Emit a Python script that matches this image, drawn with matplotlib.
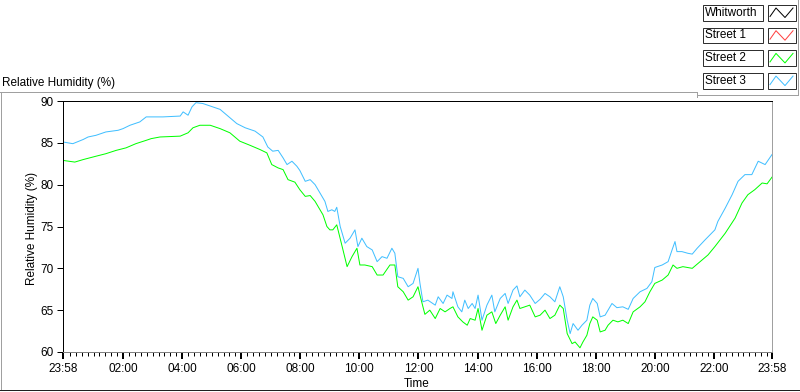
import matplotlib
matplotlib.use("Agg")
import matplotlib.pyplot as plt
from matplotlib.lines import Line2D
from matplotlib.patches import Rectangle

# Street 3 (blue): minutes since 23:58 and relative humidity (%)
street3_min = [0, 20, 41, 51, 67, 87, 112, 122, 136, 156, 169, 203, 238, 244, 254, 262,
               270, 284, 299, 319, 339, 353, 370, 390, 406, 416, 426, 437, 447, 455, 465,
               475, 481, 492, 502, 512, 522, 532, 538, 546, 552, 556, 563, 573, 583, 593,
               599, 607, 617, 628, 638, 648, 658, 668, 674, 680, 691, 701, 711, 721, 725,
               731, 741, 756, 762, 772, 780, 790, 792, 802, 810, 816, 823, 831, 837, 843,
               851, 861, 871, 877, 888, 898, 904, 914, 922, 928, 938, 948, 959, 969, 979,
               989, 999, 1009, 1016, 1024, 1030, 1036, 1046, 1054, 1064, 1070, 1076, 1085,
               1091, 1101, 1107, 1115, 1125, 1137, 1148, 1158, 1172, 1186, 1196, 1202, 1217,
               1229, 1237, 1243, 1247, 1257, 1269, 1278, 1288, 1304, 1324, 1330, 1345, 1359,
               1371, 1385, 1399, 1412, 1426, 1440]
street3_rh = [85.1, 84.9, 85.4, 85.7, 85.9, 86.3, 86.5, 86.7, 87.1, 87.5, 88.1, 88.1, 88.2,
              88.7, 88.3, 89.3, 89.8, 89.7, 89.4, 89.0, 88.0, 87.3, 86.8, 86.4, 85.7, 84.5,
              84.0, 84.1, 83.2, 82.4, 82.8, 82.2, 81.7, 80.4, 80.6, 80.0, 79.0, 78.0, 76.8,
              77.0, 76.8, 77.3, 75.0, 73.0, 73.6, 74.6, 72.6, 73.6, 72.6, 72.2, 70.8, 71.4,
              71.2, 72.4, 71.8, 69.0, 68.8, 67.8, 68.2, 70.0, 68.2, 66.0, 66.2, 65.6, 66.6,
              65.8, 66.8, 66.4, 67.2, 65.4, 64.8, 66.2, 65.2, 65.8, 65.2, 66.8, 63.8, 65.6,
              66.8, 64.8, 66.4, 67.0, 65.8, 67.4, 67.9, 66.6, 67.4, 66.8, 65.8, 66.3, 67.0,
              66.6, 66.0, 67.8, 66.6, 63.8, 62.2, 63.4, 62.6, 63.2, 63.8, 65.6, 66.4, 65.8,
              64.2, 64.4, 65.0, 65.8, 65.3, 65.4, 65.1, 66.4, 67.2, 67.6, 68.4, 70.1, 70.4,
              70.8, 72.2, 73.2, 72.0, 72.0, 71.8, 71.7, 72.4, 73.4, 74.6, 75.6, 77.2, 78.8,
              80.4, 81.2, 81.2, 82.8, 82.4, 83.6]

# Street 2 (green)
street2_min = [0, 24, 41, 67, 87, 108, 128, 148, 169, 179, 197, 238, 254, 264, 278, 299, 319,
               339, 359, 380, 400, 414, 424, 437, 447, 457, 471, 481, 492, 502, 512, 522,
               528, 536, 542, 548, 556, 567, 577, 587, 597, 603, 613, 628, 638, 650, 664,
               674, 680, 691, 701, 711, 721, 725, 735, 745, 756, 766, 776, 786, 792, 802,
               812, 821, 827, 837, 843, 851, 861, 871, 879, 888, 898, 904, 914, 922, 928,
               938, 948, 959, 969, 979, 989, 999, 1009, 1016, 1024, 1034, 1040, 1050, 1056,
               1064, 1070, 1076, 1085, 1091, 1101, 1107, 1117, 1127, 1137, 1148, 1158, 1172,
               1182, 1192, 1202, 1217, 1229, 1239, 1247, 1259, 1278, 1290, 1310, 1324, 1345,
               1365, 1379, 1391, 1405, 1420, 1430, 1440]
street2_rh = [82.9, 82.7, 83.0, 83.4, 83.7, 84.1, 84.4, 84.9, 85.3, 85.5, 85.7, 85.8, 86.2,
              86.8, 87.1, 87.1, 86.7, 86.2, 85.2, 84.7, 84.2, 83.8, 82.4, 82.0, 81.8, 80.6,
              80.3, 79.4, 78.6, 78.7, 78.0, 77.0, 76.4, 75.0, 74.6, 74.6, 75.2, 72.6, 70.2,
              71.4, 72.4, 70.4, 70.4, 70.2, 69.2, 69.2, 70.4, 70.4, 67.8, 67.2, 66.2, 66.6,
              67.8, 66.8, 64.5, 65.0, 64.0, 65.2, 64.8, 65.2, 65.4, 64.2, 63.6, 63.2, 64.0,
              63.8, 65.2, 62.6, 64.4, 64.8, 63.4, 64.4, 65.4, 63.8, 65.4, 66.2, 65.2, 65.4,
              65.6, 64.2, 64.4, 65.0, 64.0, 64.4, 65.6, 65.2, 62.2, 61.0, 61.2, 60.5, 61.2,
              62.0, 63.4, 64.2, 63.8, 62.4, 62.6, 63.2, 63.8, 63.6, 63.8, 63.4, 64.8, 65.4,
              66.0, 67.2, 68.2, 68.6, 69.2, 70.4, 70.0, 70.2, 70.0, 70.6, 71.6, 72.6, 74.2,
              76.0, 77.8, 78.8, 79.4, 80.2, 80.1, 80.9]

legend_names = ["Whitworth", "Street 1", "Street 2", "Street 3"]
legend_colors = ["#000000", "#ff4040", "#00ff00", "#40bfff"]

x_major = [0, 122, 242, 362, 482, 602, 722, 842, 962, 1082, 1202, 1322, 1440]
x_labels = ["23:58", "02:00", "04:00", "06:00", "08:00", "10:00", "12:00",
            "14:00", "16:00", "18:00", "20:00", "22:00", "23:58"]
y_ticks = [60, 65, 70, 75, 80, 85, 90]

W, H = 800, 392
PX = 0.72  # one pixel in points


def fx(x):
    return x / W


def fy(y):
    return 1 - y / H


plt.rcParams['font.family'] = ['Liberation Sans', 'DejaVu Sans']

fig = plt.figure(figsize=(8, 3.92), dpi=100)
fig.patch.set_facecolor('white')

ax = fig.add_axes([fx(63), fy(352), fx(772) - fx(63), fy(101) - fy(352)])
ax.plot(street2_min, street2_rh, color=legend_colors[2], lw=PX)
ax.plot(street3_min, street3_rh, color=legend_colors[3], lw=PX)

ax.set_xlim(0, 1440)
ax.set_ylim(60, 90)
ax.set_yticks(y_ticks)
ax.set_xticks(x_major)
ax.set_xticklabels(x_labels)
minor = [m for m in range(14, 1440, 12) if m not in x_major]
ax.set_xticks(minor, minor=True)

ax.tick_params(axis='y', direction='out', length=4, width=PX, color='black',
               labelsize=8.5, pad=3)
ax.tick_params(axis='x', which='major', direction='out', length=5, width=2 * PX,
               color='black', labelsize=8.5, pad=3)
ax.tick_params(axis='x', which='minor', direction='out', length=3, width=PX,
               color='black')

for side, col in [('left', 'black'), ('top', 'black'),
                  ('right', '#a0a0a0'), ('bottom', '#808080')]:
    ax.spines[side].set_color(col)
    ax.spines[side].set_linewidth(PX)

# frame and labels around the graph
fig.add_artist(Line2D([0, fx(697)], [fy(92), fy(92)], color='#a0a0a0', lw=PX))
fig.add_artist(Line2D([fx(1), fx(1)], [fy(92), fy(390)], color='#a0a0a0', lw=PX))
fig.add_artist(Line2D([0, 1], [fy(390), fy(390)], color='#202020', lw=PX))
fig.add_artist(Line2D([fx(697), fx(697)], [fy(92), fy(97)], color='#a0a0a0', lw=PX))
fig.add_artist(Line2D([fx(697), fx(798)], [fy(95), fy(95)], color='#a0a0a0', lw=PX))
fig.add_artist(Line2D([fx(798), fx(798)], [fy(0), fy(95)], color='#a0a0a0', lw=PX))

fig.text(fx(2), fy(83), "Relative Humidity (%)", fontsize=8.5, va='center', ha='left')
fig.text(fx(32), fy(228), "Relative Humidity (%)", fontsize=8.5, va='center',
         ha='center', rotation=90)
fig.text(fx(417), fy(384), "Time", fontsize=8.5, va='center', ha='center')

# legend: name box + sample box per plot
for i, (name, col) in enumerate(zip(legend_names, legend_colors)):
    top = 5 + i * 22.7
    bot = top + 15.5
    fig.add_artist(Rectangle((fx(703), fy(bot)), fx(763) - fx(703), fy(top) - fy(bot),
                             facecolor='white', edgecolor='#303030', lw=PX))
    fig.add_artist(Rectangle((fx(767.5), fy(bot)), fx(796) - fx(767.5), fy(top) - fy(bot),
                             facecolor='white', edgecolor='#303030', lw=PX))
    fig.text(fx(705), fy((top + bot) / 2), name, fontsize=8.5, va='center', ha='left')
    sx = [770, 776, 785, 793]
    sy = [bot - 4, top + 3, bot - 3, top + 3]
    fig.add_artist(Line2D([fx(v) for v in sx], [fy(v) for v in sy], color=col, lw=PX))

fig.savefig("out.png", dpi=100)
